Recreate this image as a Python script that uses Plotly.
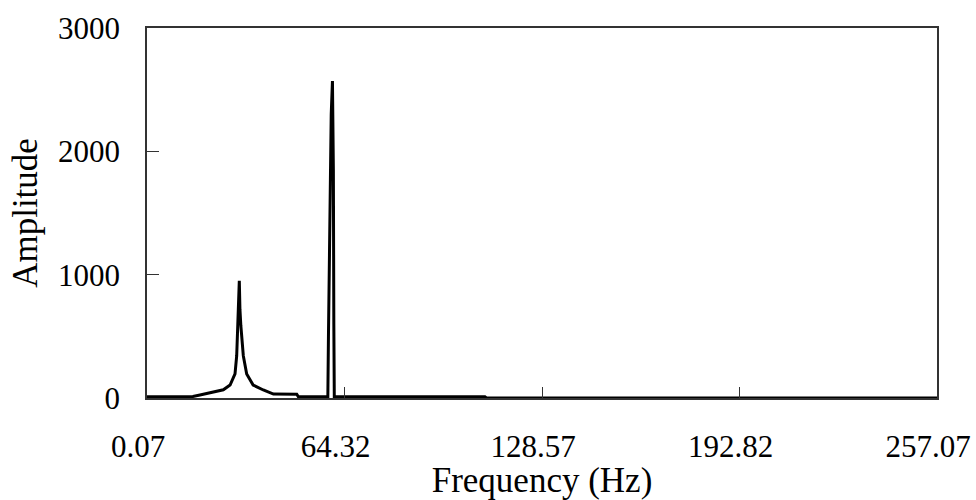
import plotly.graph_objects as go

# Frequency (Hz) and amplitude
freq = [0.07, 5.0, 10.0, 15.0, 17.3, 20.0, 24.9, 27.1, 28.7, 29.25, 29.6, 30.0, 30.1,
        30.3, 30.6, 31.4, 32.5, 34.6, 37.9, 41.2, 45.0, 48.8, 49.3,
        55.0, 58.9, 59.1, 59.4, 59.7, 60.0, 60.4, 60.7, 60.85, 61.0,
        64.3, 64.32, 64.4, 70.0, 80.0, 90.0, 100.0, 110.0, 110.5, 150.0, 200.0, 257.07]
amp = [10, 10, 10, 12, 24, 40, 67, 105, 195, 343, 586, 860, 951,
       720, 586, 343, 195, 105, 65, 32, 30, 30, 10,
       10, 10, 500, 1130, 1700, 2300, 2570, 1850, 600, 10,
       10, 10, 10, 10, 10, 10, 10, 10, 0, 0, 0, 0]

x_ticks = [0.07, 64.32, 128.57, 192.82, 257.07]
x_ticktext = ["0.07", "64.32", "128.57", "192.82", "257.07"]
y_ticks = [0, 1000, 2000, 3000]

font_family = "Liberation Serif"

fig = go.Figure()
fig.add_trace(go.Scatter(
    x=freq, y=amp, mode="lines",
    line=dict(color="black", width=3),
    showlegend=False,
))

fig.update_layout(
    width=976, height=500,
    margin=dict(l=147, r=39, t=28, b=102),
    paper_bgcolor="white", plot_bgcolor="white",
    font=dict(family=font_family, color="black"),
)

fig.update_xaxes(
    range=[0.07, 257.07],
    tickvals=x_ticks, ticktext=x_ticktext,
    ticks="inside", ticklen=11, tickwidth=1, tickcolor="#333",
    showline=True, linecolor="#333", linewidth=1.5, mirror=True,
    showgrid=False, zeroline=False,
    tickfont=dict(size=31, family=font_family, color="black"),
    ticklabelstandoff=20,
    ticklabelshift=-9,
    ticklabeloverflow="allow",
    title=dict(text="Frequency (Hz)", font=dict(size=35, family=font_family, color="black"), standoff=11),
    automargin=False,
)
fig.update_yaxes(
    range=[0, 3000],
    tickvals=y_ticks,
    ticks="inside", ticklen=12, tickwidth=1, tickcolor="#333",
    showline=True, linecolor="#333", linewidth=1.5, mirror=True,
    showgrid=False, zeroline=False,
    tickfont=dict(size=31, family=font_family, color="black"),
    ticklabelstandoff=19,
    title=dict(text="Amplitude", font=dict(size=35, family=font_family, color="black"), standoff=10),
    automargin=False,
)

fig.write_html("out.html")
